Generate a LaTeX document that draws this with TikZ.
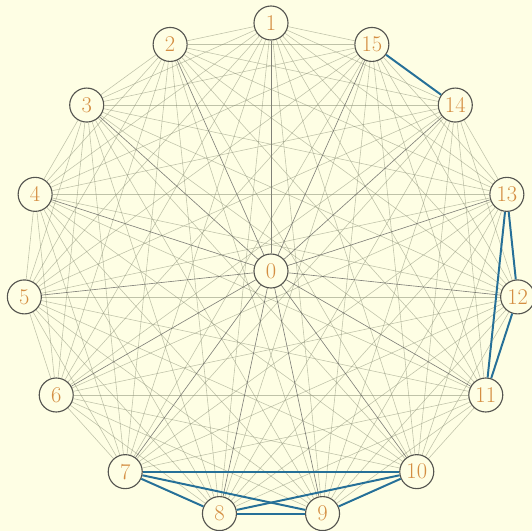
\documentclass[tikz,border=0pt]{standalone}
\usepackage{tikz}
\usetikzlibrary{positioning}
\definecolor{paper}{RGB}{254,254,228}
\definecolor{numcol}{RGB}{212,142,66}
\definecolor{ringcol}{RGB}{85,85,80}
\definecolor{linecol}{RGB}{130,135,110}
\definecolor{hilite}{RGB}{38,112,152}

\begin{document}
\begin{tikzpicture}[
			vertex/.style={draw=ringcol, circle, line width=0.8pt, fill=paper, text=numcol,
				minimum size=0.85cm, inner sep=0pt, font=\fontsize{16}{18}\selectfont},
			graphedge/.style={draw=linecol, line width=0.4pt, opacity=0.5},
			spoke/.style={draw=black!70, line width=0.45pt, opacity=0.7},
			chosen/.style={draw=hilite, line width=1.4pt}]

			% page and background
			\useasboundingbox (-6.775,-6.5) rectangle (6.525,6.775);
			\fill[paper] (-6.775,-6.5) rectangle (6.525,6.775);

			% vertices
			\node[vertex] (n0) at (0,0) {0};
			\foreach \i in {1,...,15}
				\node[vertex] (n\i) at ({90+24*(\i-1)}:6.2) {\i};

			% complete graph
			\foreach \i in {1,...,15} {
				\foreach \j in {\i,...,15} {
					\ifnum\i<\j \draw[graphedge] (n\i) -- (n\j); \fi
				}
				\draw[spoke] (n0) -- (n\i);
			}

			% highlighted cliques
			\draw[chosen] (n14) -- (n15);
			\draw[chosen] (n11) -- (n12);
			\draw[chosen] (n11) -- (n13);
			\draw[chosen] (n12) -- (n13);
			\draw[chosen] (n7) -- (n8);
			\draw[chosen] (n7) -- (n9);
			\draw[chosen] (n7) -- (n10);
			\draw[chosen] (n8) -- (n9);
			\draw[chosen] (n8) -- (n10);
			\draw[chosen] (n9) -- (n10);
	\end{tikzpicture}
\end{document}
